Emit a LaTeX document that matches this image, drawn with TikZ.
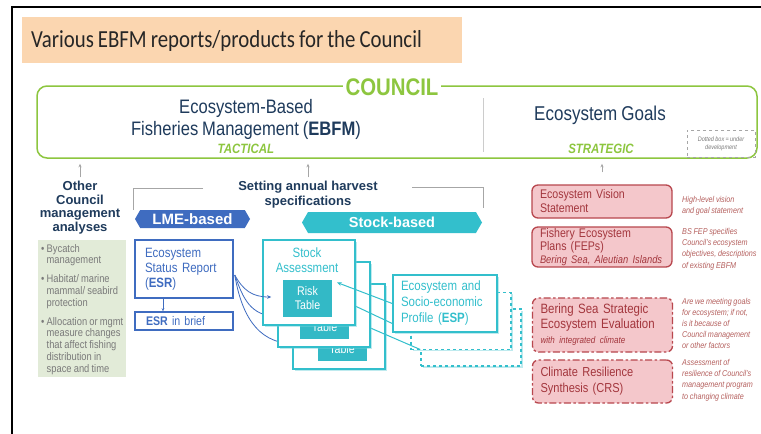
\documentclass[tikz,border=0pt]{standalone}
\usepackage{fontspec}
\setmainfont{Liberation Sans}[FakeStretch=0.85,WordSpace=0.85]
\newfontfamily\widefont{Liberation Sans}
\newfontfamily\titlefont{Carlito}[FakeStretch=0.85,WordSpace=0.85]
\usetikzlibrary{shapes.symbols,shadows,calc,arrows.meta}
\newcommand{\fs}[2]{\fontsize{#1}{#2}\selectfont}
\definecolor{cgreen}{HTML}{8DC63F}
\definecolor{navy}{HTML}{1F3B5C}
\definecolor{lmeblue}{HTML}{3F6CC0}
\definecolor{tealc}{HTML}{33BFCC}
\definecolor{riskc}{HTML}{33B9C6}
\definecolor{redb}{HTML}{B8474E}
\definecolor{redf}{HTML}{F4C7CB}
\definecolor{redt}{HTML}{A3363D}
\definecolor{notec}{HTML}{B5605E}
\definecolor{peach}{HTML}{FBD6B0}
\definecolor{greenbox}{HTML}{E2EBD8}
\definecolor{greytext}{HTML}{7A7A7A}
\definecolor{lineg}{HTML}{A6A6A6}
\begin{document}
\begin{tikzpicture}[x=1pt,y=-1pt,
  smallarrow/.style={draw=lineg, line width=0.7pt, -{Stealth[length=3.5pt,width=3pt]}},
  bracketline/.style={draw=lineg, line width=1pt},
  tshadow/.style={drop shadow={shadow xshift=1.5pt, shadow yshift=-1.5pt, fill=tealc!70, opacity=0.45}},
  sabox/.style={draw=tealc, line width=1.5pt, fill=white, minimum width=92pt, minimum height=85pt, inner sep=0pt, tshadow},
  espdash/.style={draw=tealc, line width=1.5pt, dashed, fill=white, minimum width=100pt, minimum height=57pt, inner sep=0pt, tshadow},
  risktab/.style={fill=riskc, minimum width=49pt, minimum height=37pt, inner sep=0pt, align=center, font=\fs{12.5}{14}, text=white},
  banner/.style={signal, signal to=west and east, signal pointer angle=120, inner sep=0pt, text=white},
  rbox/.style={draw=redb, line width=1.3pt, fill=redf, rounded corners=6pt, minimum width=140pt, inner xsep=8pt, inner ysep=0pt, text width=124pt, align=left, text=redt},
  rdash/.style={dash pattern=on 7pt off 2.5pt on 2.5pt off 2.5pt},
  note/.style={anchor=west, align=left, inner sep=0pt, text=notec, font=\itshape\fs{8.5}{11.3}},
  bluecurve/.style={draw=lmeblue, line width=0.8pt},
  tealline/.style={draw=tealc, line width=1pt}
]
\useasboundingbox (0,0) rectangle (761,434);
\fill[white] (0,0) rectangle (761,434);
\draw[line width=1.6pt] (12,434) -- (12,7) -- (761,7);

% title
\fill[peach] (22,17) rectangle (462,63);
\node[anchor=west, inner sep=0pt, font=\titlefont\fs{24.5}{28}, text=black!85] (title) at (31,41) {Various EBFM reports/products for the Council};

% council box
\node[draw=cgreen, line width=1.5pt, rounded corners=10pt, minimum width=720pt, minimum height=72pt, inner sep=0pt] (council) at (397,122) {};
\node[fill=white, inner sep=3pt, font=\bfseries\fs{24}{24}, text=cgreen] (councillbl) at (392,87) {COUNCIL};
\draw[black!20, line width=1pt] (483,98) -- (483,152);
\node[font=\fs{19.5}{22}, text=navy, align=center] (ebfm) at (246,119) {Ecosystem-Based\\Fisheries Management (\textbf{EBFM})};
\node[font=\bfseries\itshape\fs{13.5}{14}, text=cgreen] (tact) at (246,149) {TACTICAL};
\node[font=\fs{20}{22}, text=navy] (goals) at (600,115) {Ecosystem Goals};
\node[font=\bfseries\itshape\fs{13.5}{14}, text=cgreen] (strat) at (601,149) {STRATEGIC};
\node[draw=lineg, dashed, line width=0.5pt, minimum width=68pt, minimum height=27pt, inner sep=1pt, align=center, font=\itshape\fs{6.5}{8}, text=greytext] (dotted) at (721,143.5) {Dotted box = under\\development};

% left column
\node[font=\widefont\bfseries\fs{13}{13.7}, text=navy, align=center] (other) at (80,207.5) {Other\\Council\\management\\analyses};
\draw[smallarrow, shorten >=5pt] (other.north) -- (other.north |- council.south);
\node[fill=greenbox, minimum width=88pt, minimum height=137pt, inner sep=0pt] (gbox) at (82,308.5) {};
\node[anchor=north west, align=left, font=\fs{11}{11.8}, text=greytext, inner sep=0pt] (bul) at (41,244) {\textbullet{} Bycatch\\\hphantom{\textbullet{} }management\\[7pt]
\textbullet{} Habitat/ marine\\\hphantom{\textbullet{} }mammal/ seabird\\\hphantom{\textbullet{} }protection\\[7pt]
\textbullet{} Allocation or mgmt\\\hphantom{\textbullet{} }measure changes\\\hphantom{\textbullet{} }that affect fishing\\\hphantom{\textbullet{} }distribution in\\\hphantom{\textbullet{} }space and time};

% harvest heading
\node[font=\widefont\bfseries\fs{13}{15}, text=navy, align=center] (harvest) at (308,194.5) {Setting annual harvest\\specifications};
\draw[smallarrow, shorten >=5pt] (harvest.north) -- (harvest.north |- council.south);
\coordinate (bl1) at (203,188); \coordinate (bl2) at (133,210);
\draw[bracketline] (bl1) -| (bl2);
\coordinate (br1) at (412,187); \coordinate (br2) at (483,208);
\draw[bracketline] (br1) -| (br2);

% banners
\node[banner, fill=lmeblue, minimum width=115pt, minimum height=18pt, font=\widefont\bfseries\fs{15}{15}] (lme) at (192.5,219) {LME-based};
\node[banner, fill=tealc, minimum width=180pt, minimum height=21pt, font=\widefont\bfseries\fs{14.5}{15}] (stock) at (392,222.5) {Stock-based};

% ESR
\node[draw=lmeblue, line width=1.5pt, fill=white, minimum width=98pt, minimum height=58pt, inner xsep=10pt, inner ysep=0pt, text width=78pt, align=left, font=\fs{13.5}{15}, text=lmeblue] (esr) at (184,269) {Ecosystem\\Status Report\\(\textbf{ESR})};
\node[draw=lmeblue, line width=1.5pt, fill=white, minimum width=98pt, minimum height=18pt, inner xsep=11pt, inner ysep=0pt, text width=76pt, align=left, font=\fs{12.5}{14}, text=lmeblue] (brief) at (184,321) {\textbf{ESR} in brief};
\draw[draw=lmeblue, line width=0.6pt, -{Stealth[length=3pt,width=2.5pt]}] ([xshift=-21pt]esr.south) -- ([xshift=-21pt]brief.north);
\coordinate (esrout) at ($(esr.east)+(1,6)$);

% ESP dashed copies
\node[espdash] (espd3) at (471,337.5) {};
\node[espdash] (espd2) at (461,321) {};

% stock assessment stack
\node[sabox] (sa3) at (339,326.5) {};
\node[risktab] (rt3) at (342,342) {\phantom{Risk}\\Table};
\draw[tealline] ($(sa3.center)+(28,0)$) -- ($(espd3.west)+(0,12)$);
\draw[bluecurve] (esrout) .. controls (241,312) and (256,343) .. ($(sa3.west)+(0,17)$);
\node[sabox] (sa2) at (324,304.5) {};
\node[risktab] (rt2) at (324.5,320.5) {\phantom{Risk}\\Table};
\draw[tealline] ($(sa2.center)+(28,0)$) -- ($(espd2.west)+(0,11)$);
\draw[bluecurve] (esrout) .. controls (243,298) and (250,316) .. ($(sa2.west)+(0,12)$);
\node[sabox] (sa1) at (309,282.5) {};
\node[font=\fs{13.5}{15.5}, text=tealc, align=center, inner sep=0pt] (sat) at (307,260) {Stock\\Assessment};
\node[risktab] (rt1) at (307.5,298.5) {Risk\\Table};
\draw[bluecurve, -{Stealth[length=4pt,width=3.5pt]}] (esrout) .. controls (243,290) and (252,297) .. ($(sa1.west)+(9,14.5)$);

% ESP
\node[draw=tealc, line width=1.5pt, fill=white, minimum width=104pt, minimum height=57pt, inner xsep=8pt, inner ysep=0pt, text width=88pt, align=left, font=\fs{13.5}{16}, text=tealc, tshadow] (esp) at (445,303.5) {Ecosystem and\\Socio-economic\\Profile (\textbf{ESP})};
\draw[tealline, {Stealth[length=4.5pt,width=4pt]}-] ($(sa1.center)+(28,0)$) -- (esp.west);

% red column
\node[rbox, minimum height=33pt, font=\fs{12.5}{14}] (rb1) at (602,201.5) {Ecosystem Vision\\Statement};
\draw[smallarrow, shorten <=12pt, shorten >=5pt] (rb1.north) -- (rb1.north |- council.south);
\node[rbox, minimum height=40pt, font=\fs{12.5}{13}] (rb2) at (602,247) {Fishery Ecosystem\\Plans (FEPs)\\{\itshape\fs{11}{12}Bering Sea, Aleutian Islands}};
\node[rbox, rdash, minimum height=54pt, font=\fs{13.5}{15}] (rb3) at (602.5,325) {Bering Sea Strategic\\Ecosystem Evaluation\\{\itshape\fs{9.5}{11}with integrated climate}};
\node[rbox, rdash, minimum height=43pt, font=\fs{13}{16}] (rb4) at (602.5,381.5) {Climate Resilience\\Synthesis (CRS)};

\node[note] (n1) at (682,206) {High-level vision\\and goal statement};
\node[note] (n2) at (682,249) {BS FEP specifies\\Council's ecosystem\\objectives, descriptions\\of existing EBFM};
\node[note, font=\itshape\fs{8.5}{10.8}] (n3) at (682,323.5) {Are we meeting goals\\for ecosystem; if not,\\is it because of\\Council management\\or other factors};
\node[note] (n4) at (682,380) {Assessment of\\resilience of Council's\\management program\\to changing climate};
\end{tikzpicture}
\end{document}
